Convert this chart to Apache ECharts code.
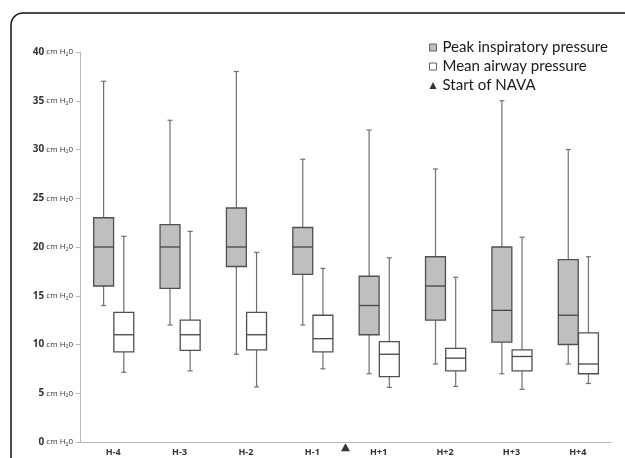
<!DOCTYPE html>
<html><head><meta charset="utf-8">
<script src="https://cdn.jsdelivr.net/npm/echarts@6/dist/echarts.min.js"></script>
<style>html,body{margin:0;padding:0;background:#fff}#c{width:625px;height:458px}</style>
</head><body><div id="c"></div>
<script>
const categories = ['H-4','H-3','H-2','H-1','H+1','H+2','H+3','H+4'];
// [min, Q1, median, Q3, max]
const peakInspiratory = [
  [14, 16, 20, 23, 37],
  [12, 15.75, 20, 22.3, 33],
  [9, 18, 20, 24, 38],
  [12, 17.2, 20, 22, 29],
  [7, 11, 14, 17, 32],
  [8, 12.5, 16, 19, 28],
  [7, 10.25, 13.5, 20, 35],
  [8, 10, 13, 18.7, 30]
];
const meanAirway = [
  [7.15, 9.25, 11, 13.3, 21.1],
  [7.3, 9.4, 11, 12.5, 21.6],
  [5.65, 9.45, 11, 13.3, 19.45],
  [7.5, 9.25, 10.6, 13, 17.8],
  [5.6, 6.7, 9, 10.3, 18.9],
  [5.7, 7.3, 8.6, 9.6, 16.9],
  [5.4, 7.3, 8.77, 9.45, 21],
  [6, 7, 8, 11.2, 19]
];
const navaStart = [[4, -0.55]];
const yTicks = [0, 5, 10, 15, 20, 25, 30, 35, 40];

const seriesNames = ['Peak inspiratory pressure', 'Mean airway pressure', 'Start of NAVA'];

function makeRender(offsetFrac, fill) {
  return function (params, api) {
    const idx = api.value(0);
    const c = api.coord([idx, 0])[0];
    const band = api.size([1, 0])[0];
    const w = band * 0.3;
    const x0 = c + offsetFrac * band;
    const xm = x0 + w / 2;
    const y = i => api.coord([idx, api.value(i)])[1];
    const yMin = y(1), yQ1 = y(2), yMed = y(3), yQ3 = y(4), yMax = y(5);
    const wStyle = { stroke: '#707070', lineWidth: 1.2 };
    const bStyle = { stroke: '#505050', lineWidth: 1.3, fill: fill };
    return {
      type: 'group',
      children: [
        { type: 'line', shape: { x1: xm, y1: yMax, x2: xm, y2: yQ3 }, style: wStyle },
        { type: 'line', shape: { x1: xm - 2.5, y1: yMax, x2: xm + 2.5, y2: yMax }, style: wStyle },
        { type: 'line', shape: { x1: xm, y1: yQ1, x2: xm, y2: yMin }, style: wStyle },
        { type: 'line', shape: { x1: xm - 2.5, y1: yMin, x2: xm + 2.5, y2: yMin }, style: wStyle },
        { type: 'rect', shape: { x: x0, y: yQ3, width: w, height: yQ1 - yQ3 }, style: bStyle },
        { type: 'line', shape: { x1: x0, y1: yMed, x2: x0 + w, y2: yMed }, style: { stroke: '#454545', lineWidth: 1.3 } }
      ]
    };
  };
}

const chart = echarts.init(document.getElementById('c'));
chart.setOption({
  backgroundColor: '#fff',
  animation: false,
  textStyle: { fontFamily: 'Open Sans' },
  graphic: [{
    type: 'rect', z: 100,
    shape: { x: 11, y: 13, width: 800, height: 800, r: 12 },
    style: { fill: 'none', stroke: '#111', lineWidth: 1.5 }
  }],
  legend: {
    orient: 'vertical', left: 424, top: 35,
    itemWidth: 7, itemHeight: 7, itemGap: 4,
    textStyle: { fontFamily: 'Lato', fontSize: 15, color: '#1a1a1a', padding: [0, 0, 0, 1] },
    data: [
      { name: seriesNames[0], icon: 'rect', itemStyle: { color: '#bfbfbf', borderColor: '#606060', borderWidth: 1 } },
      { name: seriesNames[1], icon: 'rect', itemStyle: { color: '#fff', borderColor: '#606060', borderWidth: 1 } },
      { name: seriesNames[2], icon: 'triangle', itemStyle: { color: '#000', borderWidth: 0 } }
    ]
  },
  grid: { left: 80, right: 14, top: 52, bottom: 16, containLabel: false },
  xAxis: [{
    type: 'category', data: categories,
    axisLine: { lineStyle: { color: '#b8b8b8', width: 1 } },
    axisTick: { alignWithLabel: true, length: 3, lineStyle: { color: '#b8b8b8' } },
    axisLabel: { margin: 6, fontSize: 9, color: '#333', fontFamily: 'Open Sans', fontWeight: 'bold' },
    splitLine: { show: false }
  }, {
    type: 'value', min: 0, max: 8, show: false
  }],
  yAxis: {
    type: 'value', min: 0, max: 40, interval: 5,
    axisLine: { show: true, lineStyle: { color: '#b8b8b8', width: 1 } },
    axisTick: { show: true, length: 4, lineStyle: { color: '#b8b8b8' } },
    splitLine: { show: false },
    axisLabel: {
      margin: 7,
      formatter: function (v) { return '{n|' + v + '}{u| cm H}{s|2}{u|0}'; },
      rich: {
        n: { fontSize: 10, color: '#333', fontFamily: 'Open Sans', fontWeight: 'bold' },
        u: { fontSize: 8, color: '#333', fontFamily: 'Open Sans' },
        s: { fontSize: 5, color: '#333', fontFamily: 'Open Sans', verticalAlign: 'bottom', padding: [4, 0, 0, 0] }
      }
    }
  },
  series: [{
    name: seriesNames[0], type: 'custom', xAxisIndex: 0,
    itemStyle: { color: '#bfbfbf' },
    renderItem: makeRender(-0.294, '#bfbfbf'),
    encode: { x: 0, y: [1, 2, 3, 4, 5] },
    data: peakInspiratory.map((d, i) => [i].concat(d))
  }, {
    name: seriesNames[1], type: 'custom', xAxisIndex: 0,
    itemStyle: { color: '#ffffff' },
    renderItem: makeRender(0.01, '#ffffff'),
    encode: { x: 0, y: [1, 2, 3, 4, 5] },
    data: meanAirway.map((d, i) => [i].concat(d))
  }, {
    name: seriesNames[2], type: 'scatter', xAxisIndex: 1, clip: false,
    symbol: 'triangle', symbolSize: [9, 8],
    itemStyle: { color: '#000' },
    data: navaStart
  }]
});
</script></body></html>
